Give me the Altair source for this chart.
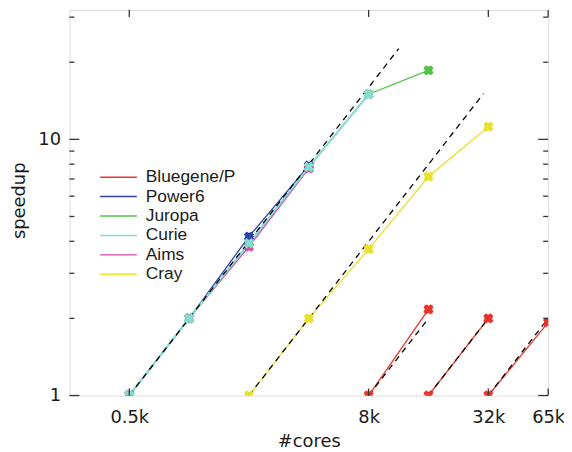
import altair as alt
import pandas as pd

# ---------------- data ----------------
series_order = ["Bluegene/P", "Power6", "Juropa", "Curie", "Aims", "Cray"]
series_colors = ["#e8352b", "#2e42a8", "#54c245", "#86dcd3", "#d24ab2", "#e8e12e"]

bg_cores = [8192, 16384, 16384, 32768, 32768, 65536]
bg_speedup = [1.0, 2.17, 1.0, 2.0, 1.0, 1.93]
bg_run = ["a", "a", "b", "b", "c", "c"]

p6_cores = [512, 1024, 2048, 4096]
p6_speedup = [1.0, 2.0, 4.17, 7.9]

aims_cores = [512, 1024, 2048, 4096]
aims_speedup = [1.0, 2.0, 3.81, 7.7]

jur_cores = [512, 1024, 2048, 4096, 8192, 16384]
jur_speedup = [1.0, 2.0, 3.92, 7.8, 15.0, 18.6]

cur_cores = [512, 1024, 2048, 4096, 8192]
cur_speedup = [1.0, 2.0, 3.93, 7.8, 15.0]

cray_cores = [2048, 4096, 8192, 16384, 32768]
cray_speedup = [1.0, 2.0, 3.73, 7.16, 11.2]

# ideal (linear) scaling references
ideal_run = ["i1", "i1", "i2", "i2", "i3", "i3", "i4", "i4", "i5", "i5"]
ideal_cores = [512, 11600, 2048, 31000, 8192, 16384, 16384, 32768, 32768, 65536]
ideal_speedup = [1.0, 22.6, 1.0, 15.1, 1.0, 2.0, 1.0, 2.0, 1.0, 2.0]

x_tick_values = [512, 8192, 32768, 65536]
x_tick_labels = ["0.5k", "8k", "32k", "65k"]
y_major = [1, 10]
y_minor = [2, 3, 4, 5, 6, 7, 8, 9, 20, 30]

# ---------------- tables ----------------
rows = []
def add(name, cores, sp, runs=None):
    for i, (c, s) in enumerate(zip(cores, sp)):
        rows.append({"series": name, "run": runs[i] if runs else name, "cores": c, "speedup": s})

# drawing order (bottom to top)
add("Bluegene/P", bg_cores, bg_speedup, bg_run)
add("Power6", p6_cores, p6_speedup)
add("Aims", aims_cores, aims_speedup)
add("Juropa", jur_cores, jur_speedup)
add("Curie", cur_cores, cur_speedup)
add("Cray", cray_cores, cray_speedup)
df = pd.DataFrame(rows)

ideal_df = pd.DataFrame({"run": ideal_run, "cores": ideal_cores, "speedup": ideal_speedup})
xt_df = pd.DataFrame({"cores": x_tick_values})
ymaj_df = pd.DataFrame({"speedup": y_major})
ymin_df = pd.DataFrame({"speedup": y_minor})

W, H = 483, 389
AXIS_FONT = "DejaVu Sans"
INK = "#1a1a1a"

label_expr = ""
for v, l in zip(x_tick_values, x_tick_labels):
    label_expr += f"datum.value == {v} ? '{l}' : "
label_expr += "''"

X = alt.X(
    "cores:Q",
    scale=alt.Scale(type="log", base=2, domain=[256, 65536], nice=False),
    axis=alt.Axis(
        values=x_tick_values, labelExpr=label_expr, title="#cores",
        ticks=False, domain=False, grid=False, labelFlush=False, labelOverlap=False,
        labelFont=AXIS_FONT, labelFontSize=18, labelColor=INK, labelPadding=13,
        titleFont=AXIS_FONT, titleFontSize=18, titleFontWeight="normal", titleColor=INK,
        titleBaseline="alphabetic", titleY=51,
    ),
)
Y = alt.Y(
    "speedup:Q",
    scale=alt.Scale(type="log", domain=[1, 32], nice=False),
    axis=alt.Axis(
        values=y_major, format="d", title="speedup",
        ticks=False, domain=False, grid=False, labelFlush=False, labelOverlap=False,
        labelFont=AXIS_FONT, labelFontSize=18, labelColor=INK, labelPadding=9,
        titleFont=AXIS_FONT, titleFontSize=18, titleFontWeight="normal", titleColor=INK,
        titleAngle=270, titleBaseline="alphabetic", titleX=-45, titleY=192, titleAlign="center",
    ),
)

color_scale = alt.Scale(domain=series_order, range=series_colors)

lines = alt.Chart(df).mark_line(clip=True).encode(
    x=X, y=Y,
    color=alt.Color(
        "series:N", scale=color_scale,
        legend=alt.Legend(
            orient="none", legendX=30, legendY=160, title=None,
            symbolType="stroke", symbolSize=1369, symbolStrokeWidth=1.5,
            labelFont="Liberation Sans", labelFontSize=17.5, labelColor=INK,
            clipHeight=17.4, rowPadding=0.6, labelOffset=8, padding=0,
        ),
    ),
    detail="run:N",
    strokeWidth=alt.condition(alt.datum.series == "Curie", alt.value(2.0), alt.value(1.3)),
)

ideal = alt.Chart(ideal_df).mark_line(
    clip=True, color="black", strokeDash=[6, 5], strokeWidth=1.3
).encode(x=X, y=Y, detail="run:N")

pts_sq = alt.Chart(df).mark_point(
    shape="square", filled=True, size=60, opacity=1, clip=True
).encode(x=X, y=Y, color=alt.Color("series:N", scale=color_scale, legend=None))

pts_x = alt.Chart(df).mark_point(
    shape="cross", angle=45, filled=True, size=110, opacity=1, clip=True
).encode(x=X, y=Y, color=alt.Color("series:N", scale=color_scale, legend=None))

TICK = dict(color="#333333", strokeWidth=1.3)
xt_bottom = alt.Chart(xt_df).mark_rule(**TICK).encode(x=X, y=alt.value(H), y2=alt.value(H - 7))
xt_top = alt.Chart(xt_df).mark_rule(**TICK).encode(x=X, y=alt.value(0), y2=alt.value(7))
ymaj_l = alt.Chart(ymaj_df).mark_rule(**TICK).encode(y=Y, x=alt.value(0), x2=alt.value(10))
ymaj_r = alt.Chart(ymaj_df).mark_rule(**TICK).encode(y=Y, x=alt.value(W), x2=alt.value(W - 10))
ymin_l = alt.Chart(ymin_df).mark_rule(**TICK).encode(y=Y, x=alt.value(0), x2=alt.value(5))
ymin_r = alt.Chart(ymin_df).mark_rule(**TICK).encode(y=Y, x=alt.value(W), x2=alt.value(W - 5))

chart = alt.layer(
    lines, ideal, pts_sq, pts_x,
    xt_bottom, xt_top, ymaj_l, ymaj_r, ymin_l, ymin_r,
).properties(
    width=W, height=H,
    autosize=alt.AutoSizeParams(type="none"),
    padding={"left": 62, "top": 0, "right": 16, "bottom": 55},
).configure_view(
    stroke="#222222", strokeWidth=1.5
).configure(background="white")

chart.save("out.html", embed_options={"renderer": "svg", "actions": False})
